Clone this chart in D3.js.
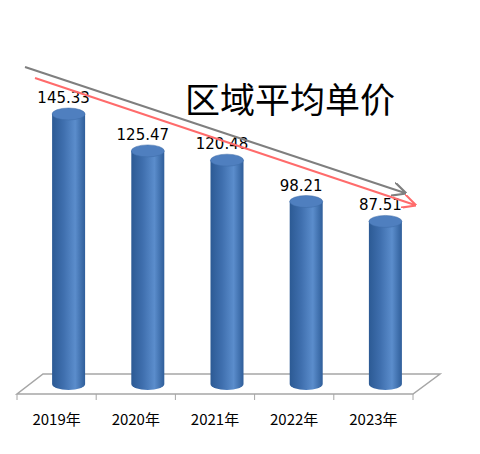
<!DOCTYPE html><html><head><meta charset="utf-8"><script src="https://cdn.jsdelivr.net/npm/d3@7"></script>
<style>body{margin:0;background:#fff}</style></head><body><svg id="c" width="480" height="454"></svg><script>
const categories=["2019年","2020年","2021年","2022年","2023年"];
const values=[145.33,125.47,120.48,98.21,87.51];
const title="区域平均单价";
const svg=d3.select("#c");
const x=d3.scaleBand().domain(categories).range([17,413]);
const y=d3.scaleLinear().domain([0,145.33]).range([384,114]);
const defs=svg.append("defs");
const g=defs.append("linearGradient").attr("id","cyl");
[["0%","#2c5a94"],["35%","#3f6fae"],["70%","#5b8dcc"],["100%","#2f5e9a"]].forEach(s=>g.append("stop").attr("offset",s[0]).attr("stop-color",s[1]));
const mk=(id,col)=>defs.append("marker").attr("id",id).attr("viewBox","0 0 10 10").attr("refX",9).attr("refY",5).attr("markerWidth",7).attr("markerHeight",7).attr("orient","auto").append("path").attr("d","M0,0L10,5L0,10").attr("fill","none").attr("stroke",col).attr("stroke-width",1.5);
mk("ag","#7f7f7f");mk("ar","#ff6b6b");
svg.append("path").attr("d","M17,394L413,394L440,374L43,374Z").attr("fill","#fff").attr("stroke","#a6a6a6").attr("stroke-width",1.5);
const ticks=x.domain().map(d=>x(d)).concat([x.range()[1]]);
svg.selectAll(".tk").data(ticks).join("line").attr("x1",d=>d).attr("x2",d=>d).attr("y1",394).attr("y2",400).attr("stroke","#a6a6a6");
svg.selectAll(".xl").data(categories).join("text").attr("x",d=>x(d)+x.bandwidth()/2).attr("y",425).attr("text-anchor","middle").attr("font-family","Noto Sans CJK SC").attr("font-size",15).text(d=>d);
const rw=16.5,ry=6;
const bars=svg.selectAll(".b").data(values).join("g");
bars.each(function(v,i){
 const cx=x(categories[i])+x.bandwidth()/2+12, yb=y(0), yt=y(v), s=d3.select(this);
 s.append("path").attr("d",`M${cx-rw},${yt}L${cx-rw},${yb}A${rw},${ry} 0 0 0 ${cx+rw},${yb}L${cx+rw},${yt}Z`).attr("fill","url(#cyl)");
 s.append("ellipse").attr("cx",cx).attr("cy",yt).attr("rx",rw).attr("ry",ry).attr("fill","#4f7fbf").attr("stroke","#3d6aa6").attr("stroke-width",0.5);
 s.append("text").attr("x",cx-5).attr("y",yt-11).attr("text-anchor","middle").attr("font-family","DejaVu Sans").attr("font-size",15).text(v.toFixed(2));
});
svg.append("line").attr("x1",25).attr("y1",67).attr("x2",405).attr("y2",193).attr("stroke","#7f7f7f").attr("stroke-width",2).attr("marker-end","url(#ag)");
svg.append("line").attr("x1",35).attr("y1",78).attr("x2",415).attr("y2",205).attr("stroke","#ff6b6b").attr("stroke-width",2).attr("marker-end","url(#ar)");
svg.append("text").attr("x",290).attr("y",113).attr("text-anchor","middle").attr("font-family","Noto Sans CJK SC").attr("font-size",35).text(title);
</script></body></html>
